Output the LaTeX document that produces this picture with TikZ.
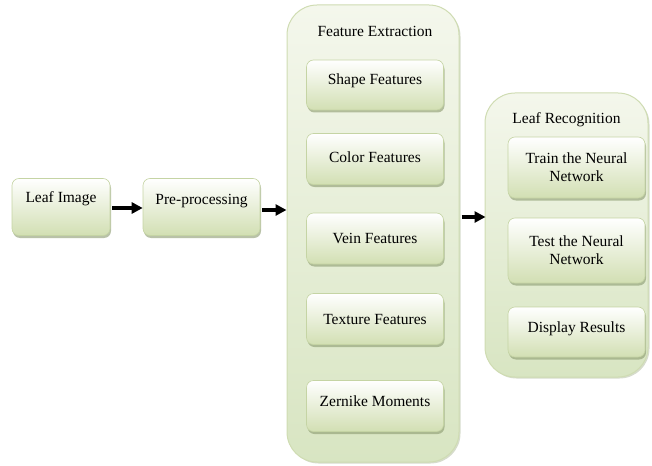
\documentclass[tikz,border=0pt]{standalone}
\usepackage{fontspec}
\setmainfont{Liberation Serif}
\usetikzlibrary{shadows,arrows.meta}
\definecolor{conttop}{HTML}{F4F7EC}
\definecolor{contbot}{HTML}{D8E5C2}
\definecolor{contedge}{HTML}{CFDCB2}
\definecolor{boxbot}{HTML}{D2DFB3}
\definecolor{boxedge}{HTML}{C5D4A4}
\definecolor{shad}{HTML}{8A9A6E}
\begin{document}
\begin{tikzpicture}[x=1pt,y=-1pt,
  container/.style={draw=contedge, top color=conttop, bottom color=contbot, rounded corners=30pt, line width=1pt,
    drop shadow={shadow xshift=1.5pt, shadow yshift=-1.5pt, fill=shad, opacity=0.35}},
  stepbox/.style={draw=boxedge, rounded corners=7pt, top color=white, bottom color=boxbot,
    line width=0.6pt,
    drop shadow={shadow xshift=1pt, shadow yshift=-2.5pt, fill=shad, opacity=0.6}},
  txt/.style={font=\fontsize{15.5}{18}\selectfont, align=center, inner sep=0pt},
  arr/.style={-{Triangle[length=11pt,width=11pt]}, line width=3.4pt}]
\useasboundingbox (0,0) rectangle (652,465);
% containers
\node[container, minimum width=172pt, minimum height=457pt] (fe) at (373,233.5) {};
\node[container, minimum width=163pt, minimum height=284pt] (lr) at (566.5,235) {};
\node[txt] (fet) at (375,31) {Feature Extraction};
\node[txt] (lrt) at (566.5,120) {Leaf Recognition};
% left boxes
\node[stepbox, minimum width=98pt, minimum height=57pt] (leaf) at (61,207) {};
\node[txt] (leaft) at ([yshift=8pt]leaf.center) {Leaf Image};
\node[stepbox, minimum width=117pt, minimum height=57pt] (pre) at (201.5,207) {};
\node[txt] (pret) at ([yshift=6pt]pre.center) {Pre-processing};
% feature boxes
\node[stepbox, minimum width=137pt, minimum height=50pt] (shape) at (375,85) {};
\node[txt] at ([yshift=4pt]shape.center) {Shape Features};
\node[stepbox, minimum width=137pt, minimum height=51pt] (color) at (375,159) {};
\node[txt] at ([yshift=2pt]color.center) {Color Features};
\node[stepbox, minimum width=137pt, minimum height=51pt] (vein) at (375,238.5) {};
\node[txt] at (vein.center) {Vein Features};
\node[stepbox, minimum width=137pt, minimum height=51pt] (text) at (375,319) {};
\node[txt] at (text.center) {Texture Features};
\node[stepbox, minimum width=137pt, minimum height=51pt] (zern) at (375,406) {};
\node[txt] at ([yshift=5pt]zern.center) {Zernike Moments};
% recognition boxes
\node[stepbox, minimum width=137pt, minimum height=61pt] (train) at (576.5,167.5) {};
\node[txt] at (train.center) {Train the Neural\\Network};
\node[stepbox, minimum width=137pt, minimum height=65pt] (test) at (576.5,250.5) {};
\node[txt] at (test.center) {Test the Neural\\Network};
\node[stepbox, minimum width=137pt, minimum height=50pt] (disp) at (576.5,332) {};
\node[txt] at ([yshift=3pt]disp.center) {Display Results};
% arrows
\draw[arr] ([xshift=2pt,yshift=-1pt]leaf.east) -- ([xshift=0pt,yshift=-1pt]pre.west);
\draw[arr] ([xshift=2pt,yshift=-3pt]pre.east) -- ([xshift=0pt,yshift=-3pt]pre.east -| fe.west);
\coordinate (a3) at ([xshift=2pt]fe.east |- 0,217);
\draw[arr] (a3) -- ([xshift=1pt]a3 -| lr.west);
\end{tikzpicture}
\end{document}
